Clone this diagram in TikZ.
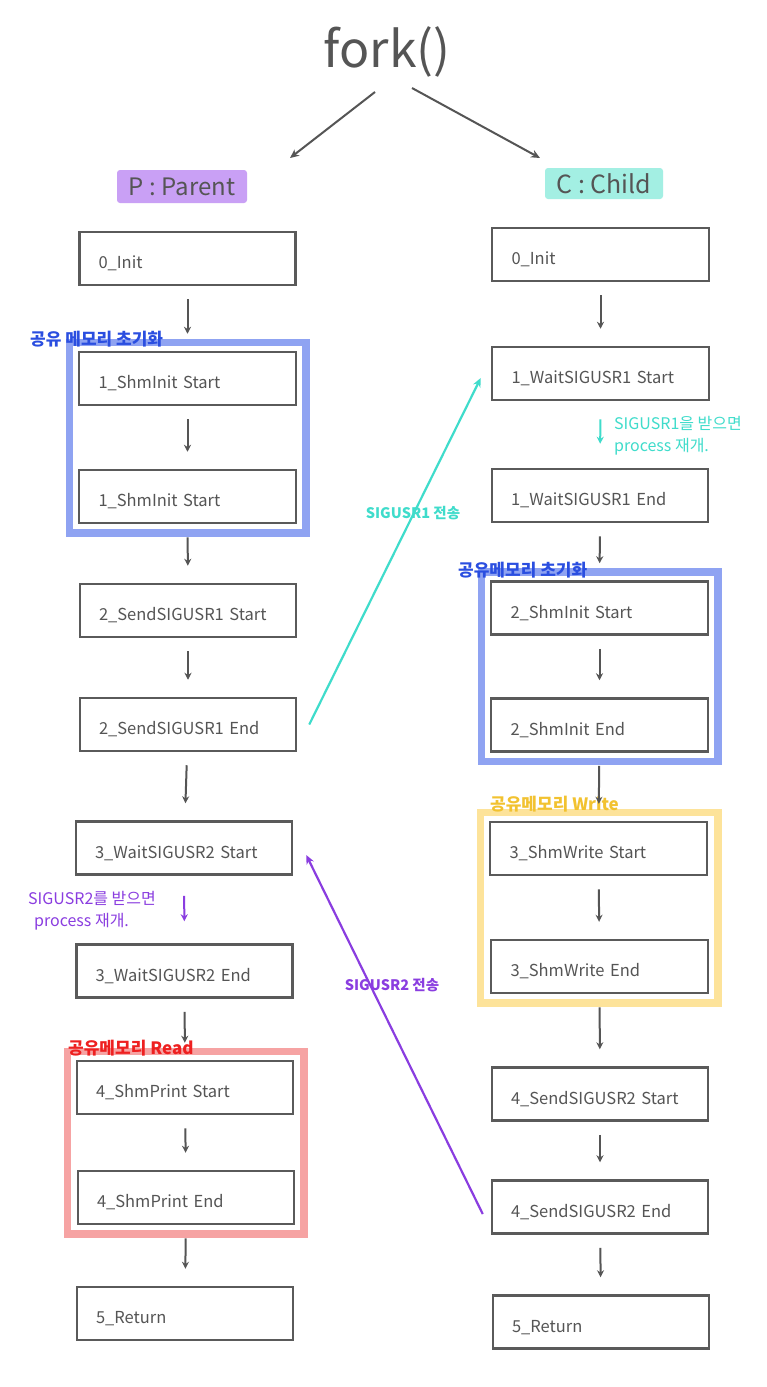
\documentclass[tikz,border=0pt]{standalone}
\usepackage{fontspec}
\setmainfont{Noto Sans CJK KR}
\usetikzlibrary{arrows.meta,fit}
\definecolor{boxgray}{HTML}{5A5A5A}
\definecolor{txtgray}{HTML}{555555}
\definecolor{blueframe}{HTML}{8FA3F2}
\definecolor{bluetext}{HTML}{2A4EE0}
\definecolor{cyanline}{HTML}{3FDCCB}
\definecolor{purpleline}{HTML}{8A3DE0}
\definecolor{yellowframe}{HTML}{FDE39A}
\definecolor{yellowtext}{HTML}{F2C230}
\definecolor{redframe}{HTML}{F6A3A3}
\definecolor{redtext}{HTML}{EE2020}
\definecolor{parentbg}{HTML}{C9A0F5}
\definecolor{childbg}{HTML}{A3EFE3}
\tikzset{
  stepbox/.style={draw=boxgray, line width=2.5pt, fill=white, minimum height=53pt,
     inner xsep=19pt, inner ysep=2pt, text width=178pt, align=left, text=txtgray,
     text height=24pt, text depth=4pt,
     font=\fontsize{16.5}{18}\selectfont},
  flow/.style={draw=txtgray, line width=2pt, -{Stealth[length=7pt,width=7pt]},
     shorten <=13pt, shorten >=17pt},
  frame/.style={line width=7.5pt, inner sep=8.5pt},
  sig/.style={line width=2.2pt, -{Stealth[length=9pt,width=8pt]}},
  tag/.style={rounded corners=3pt, text=txtgray, inner sep=0pt},
  note/.style={align=left, font=\fontsize{16}{22}\selectfont, inner sep=0pt},
  flabel/.style={inner sep=0pt, font=\bfseries\fontsize{17}{19}\selectfont},
  siglabel/.style={inner sep=1pt, font=\bfseries\fontsize{14.5}{16}\selectfont}
}
\begin{document}
\begin{tikzpicture}[x=1pt,y=-1pt]
\useasboundingbox[fill=white] (0,0) rectangle (766,1387);

% title
\node[text=txtgray, font=\fontsize{50}{54}\selectfont] (fork) at (387,52) {fork()};
\coordinate (fs1) at (375,92);
\coordinate (fe1) at (290,158);
\coordinate (fs2) at (412,88);
\coordinate (fe2) at (540,158);
\draw[sig, draw=txtgray, line width=2pt] (fs1) -- (fe1);
\draw[sig, draw=txtgray, line width=2pt] (fs2) -- (fe2);

\node[tag, fill=parentbg, minimum width=130pt, minimum height=33pt, font=\fontsize{24}{26}\selectfont] (ptag) at (182,186.5) {P : Parent};
\node[tag, fill=childbg, minimum width=118pt, minimum height=31pt, font=\fontsize{25}{27}\selectfont] (ctag) at (604,183.5) {C : Child};

% left column
\node[stepbox, minimum width=216pt] (lp0)  at (187.5,258.5) {0\_Init};
\node[stepbox, minimum width=217pt] (lp1a) at (187.5,378.5) {1\_ShmInit Start};
\node[stepbox, minimum width=217pt] (lp1b) at (187.5,496.5) {1\_ShmInit Start};
\node[stepbox, minimum width=216pt] (lp2a) at (188,610.5) {2\_SendSIGUSR1 Start};
\node[stepbox, minimum width=216pt] (lp2b) at (188,724.5) {2\_SendSIGUSR1 End};
\node[stepbox, minimum width=216pt] (lp3a) at (184,848) {3\_WaitSIGUSR2 Start};
\node[stepbox, minimum width=216pt] (lp3b) at (184.5,971) {3\_WaitSIGUSR2 End};
\node[stepbox, minimum width=216pt] (lp4a) at (185,1087.5) {4\_ShmPrint Start};
\node[stepbox, minimum width=216pt] (lp4b) at (186,1197.5) {4\_ShmPrint End};
\node[stepbox, minimum width=216pt] (lp5)  at (185,1313.5) {5\_Return};

% right column
\node[stepbox, minimum width=217pt] (rc0)  at (600.5,254.5) {0\_Init};
\node[stepbox, minimum width=217pt] (rc1a) at (600.5,373.5) {1\_WaitSIGUSR1 Start};
\node[stepbox, minimum width=216pt] (rc1b) at (600,495.5) {1\_WaitSIGUSR1 End};
\node[stepbox, minimum width=217pt] (rc2a) at (599.5,608) {2\_ShmInit Start};
\node[stepbox, minimum width=217pt] (rc2b) at (599.5,725) {2\_ShmInit End};
\node[stepbox, minimum width=217pt] (rc3a) at (598.5,848.5) {3\_ShmWrite Start};
\node[stepbox, minimum width=217pt] (rc3b) at (599.5,966.5) {3\_ShmWrite End};
\node[stepbox, minimum width=216pt] (rc4a) at (600,1094) {4\_SendSIGUSR2 Start};
\node[stepbox, minimum width=216pt] (rc4b) at (600,1207) {4\_SendSIGUSR2 End};
\node[stepbox, minimum width=216pt] (rc5)  at (601,1322) {5\_Return};

% frames
\node[frame, draw=blueframe, fit=(lp1a)(lp1b)] (fb1) {};
\node[frame, draw=blueframe, fit=(rc2a)(rc2b)] (fb2) {};
\node[frame, draw=yellowframe, fit=(rc3a)(rc3b)] (fy) {};
\node[frame, draw=redframe, fit=(lp4a)(lp4b)] (fr) {};

\node[flabel, text=bluetext, anchor=south west] (lb1) at (30,347) {공유 메모리 초기화};
\node[flabel, text=bluetext, anchor=south west] (lb2) at (458,578) {공유메모리 초기화};
\node[flabel, text=yellowtext, anchor=south west] (ly) at (490,812) {공유메모리 Write};
\node[flabel, text=redtext, anchor=south west] (lr) at (68,1056) {공유메모리 Read};

% flow arrows left
\draw[flow] (lp0) -- (lp1a);
\draw[flow] (lp1a) -- (lp1b);
\draw[flow] (lp1b) -- (lp2a);
\draw[flow] (lp2a) -- (lp2b);
\draw[flow] (lp2b) -- (lp3a);
\draw[flow, draw=purpleline, shorten <=20pt, shorten >=22pt] (lp3a) -- (lp3b);
\draw[flow] (lp3b) -- (lp4a);
\draw[flow] (lp4a) -- (lp4b);
\draw[flow] (lp4b) -- (lp5);

% flow arrows right
\draw[flow] (rc0) -- (rc1a);
\draw[flow, draw=cyanline, shorten <=18pt, shorten >=24pt] (rc1a) -- (rc1b);
\draw[flow] (rc1b) -- (rc2a);
\draw[flow] (rc2a) -- (rc2b);
\draw[flow] (rc2b) -- (rc3a);
\draw[flow] (rc3a) -- (rc3b);
\draw[flow] (rc3b) -- (rc4a);
\draw[flow] (rc4a) -- (rc4b);
\draw[flow] (rc4b) -- (rc5);

% notes
\node[note, text=cyanline, anchor=north west] (n1) at (614,416) {SIGUSR1을 받으면\\process 재개.};
\node[note, text=purpleline, anchor=north west] (n2) at (28,891) {SIGUSR2를 받으면\\\hspace*{6pt}process 재개.};

% signal arrows
\draw[sig, draw=cyanline] ([xshift=12pt]lp2b.east) -- ([xshift=-10pt,yshift=-4.5pt]rc1a.west);
\node[siglabel, text=cyanline] (s1) at (413,513) {SIGUSR1 전송};
\draw[sig, draw=purpleline] ([xshift=-8pt,yshift=-7pt]rc4b.west) -- ([xshift=13pt,yshift=-7pt]lp3a.east);
\node[siglabel, text=purpleline] (s2) at (392,985) {SIGUSR2 전송};
\end{tikzpicture}
\end{document}
